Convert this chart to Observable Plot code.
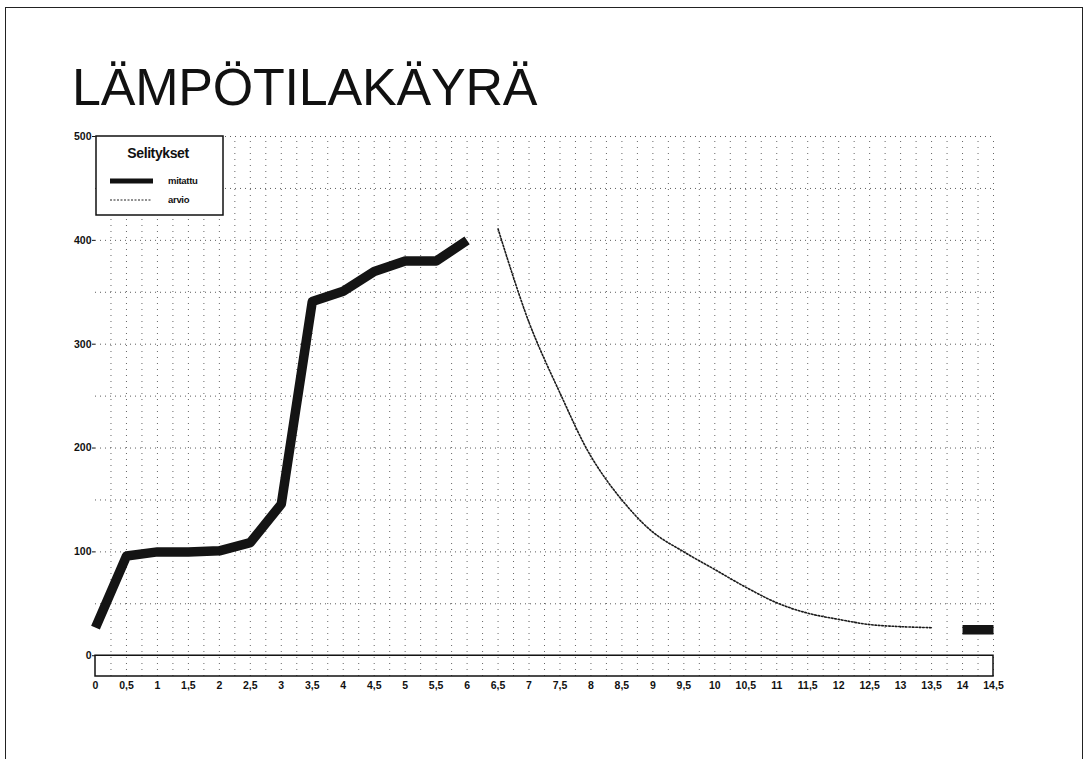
<!DOCTYPE html>
<html><head><meta charset="utf-8">
<script src="https://cdn.jsdelivr.net/npm/d3@7"></script>
<script src="https://cdn.jsdelivr.net/npm/@observablehq/plot@0.6"></script>
<style>
html,body{margin:0;padding:0;background:#fff;}
body{width:1084px;height:759px;position:relative;overflow:hidden;font-family:"Liberation Sans",Arial,sans-serif;}
#frame{position:absolute;left:5px;top:7px;width:1078px;height:800px;border:1.5px solid #222;box-sizing:border-box;}
#title{position:absolute;left:72px;top:61px;margin:0;font-size:52px;line-height:52px;font-weight:normal;color:#111;letter-spacing:-0.2px;white-space:nowrap;}
#chart{position:absolute;left:0;top:0;}
#legend{position:absolute;left:95px;top:135px;}
</style></head><body>
<div id="frame"></div>
<h1 id="title">LÄMPÖTILAKÄYRÄ</h1>
<div id="chart"></div>
<svg id="legend" width="130" height="82"></svg>
<script>
// Measured temperature ("mitattu"), two separate segments
const measuredX   = [0, 0.5, 1, 1.5, 2, 2.5, 3, 3.5, 4, 4.5, 5, 5.5, 6, 14, 14.5];
const measuredY   = [27, 96, 100, 100, 101, 109, 146, 341, 351, 370, 380, 380, 400, 25, 25];
const measuredSeg = ["a","a","a","a","a","a","a","a","a","a","a","a","a","b","b"];
// Estimated cooling curve ("arvio")
const estimateX = [6.5, 7, 7.5, 8, 8.5, 9, 9.5, 10, 10.5, 11, 11.5, 12, 12.5, 13, 13.5];
const estimateY = [411, 321, 253, 192, 150, 119, 100, 83, 66, 51, 41, 35, 30, 28, 27];
// Axis ticks
const xTicks = [0,0.5,1,1.5,2,2.5,3,3.5,4,4.5,5,5.5,6,6.5,7,7.5,8,8.5,9,9.5,10,10.5,11,11.5,12,12.5,13,13.5,14,14.5];
const yTicks = [0, 100, 200, 300, 400, 500];
const legendTitle = "Selitykset";
const legendLabels = ["mitattu", "arvio"];

const measured = measuredX.map((x, i) => ({x, y: measuredY[i], seg: measuredSeg[i]}));
const estimate = estimateX.map((x, i) => ({x, y: estimateY[i]}));
const vGrid = d3.range(0.25, 14.51, 0.25);
const hGrid = d3.range(50, 501, 50);

const plot = Plot.plot({
  width: 1084,
  height: 759,
  marginLeft: 95,
  marginRight: 91,
  marginTop: 136,
  marginBottom: 83,
  x: {domain: [0, 14.5]},
  y: {domain: [-20, 500]},
  style: {fontFamily: '"Liberation Sans", Arial, sans-serif', fontWeight: "bold", fontSize: "10.5px", color: "#111", background: "transparent"},
  marks: [
    Plot.ruleX(vGrid, {y1: -20, y2: 500, stroke: "#333", strokeWidth: 1, strokeDasharray: "1,5", strokeOpacity: 0.75}),
    Plot.ruleY(hGrid, {x1: 0, x2: 14.5, stroke: "#333", strokeWidth: 1, strokeDasharray: "1,4", strokeOpacity: 0.8}),
    Plot.rect([0], {x1: 0, x2: 14.5, y1: -20, y2: 0, fill: "none", stroke: "#111", strokeWidth: 1.5}),
    Plot.line(estimate, {x: "x", y: "y", curve: "catmull-rom", stroke: "#1a1a1a", strokeWidth: 1.6, strokeDasharray: "1.6,1.8"}),
    Plot.line(measured, {x: "x", y: "y", z: "seg", stroke: "#141414", strokeWidth: 9.5, strokeLinejoin: "round", strokeLinecap: "butt"}),
    Plot.axisX({ticks: xTicks, tickFormat: d => String(d).replace(".", ","), tickSize: 0, tickPadding: 5, label: null}),
    Plot.axisY({ticks: yTicks, tickSize: 3, tickPadding: 1, label: null})
  ]
});
document.getElementById("chart").appendChild(plot);

// Legend box
const lg = d3.select("#legend");
lg.append("rect").attr("x", 1).attr("y", 1).attr("width", 127).attr("height", 79)
  .attr("fill", "#fff").attr("stroke", "#111").attr("stroke-width", 1.5);
lg.append("text").attr("x", 63).attr("y", 23).attr("text-anchor", "middle")
  .attr("font-family", '"Liberation Sans", Arial, sans-serif').attr("font-weight", "bold")
  .attr("font-size", 14).attr("letter-spacing", -0.4).attr("fill", "#111").text(legendTitle);
lg.append("line").attr("x1", 15).attr("x2", 58).attr("y1", 46).attr("y2", 46)
  .attr("stroke", "#111").attr("stroke-width", 5);
lg.append("line").attr("x1", 15).attr("x2", 56).attr("y1", 65).attr("y2", 65)
  .attr("stroke", "#222").attr("stroke-width", 1.2).attr("stroke-dasharray", "2,1.5");
legendLabels.forEach((t, i) => {
  lg.append("text").attr("x", 73).attr("y", 49 + i * 19)
    .attr("font-family", '"Liberation Sans", Arial, sans-serif').attr("font-weight", "bold")
    .attr("font-size", 9.5).attr("letter-spacing", -0.3).attr("fill", "#111").text(t);
});
</script>
</body></html>
